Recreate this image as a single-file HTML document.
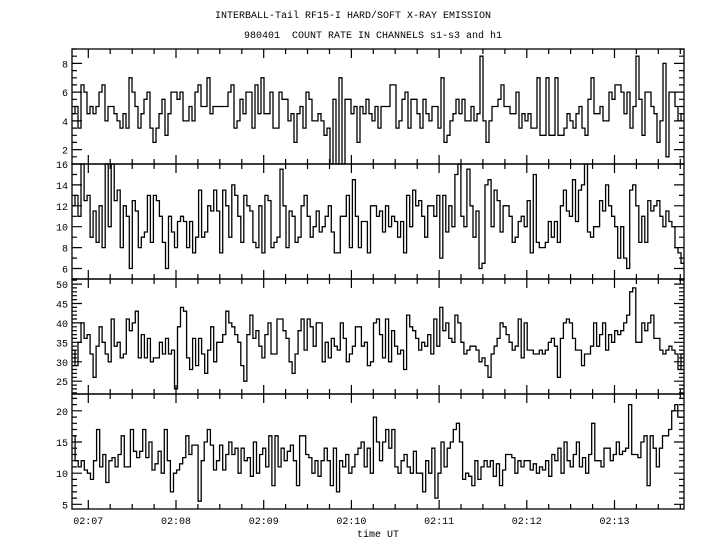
<!DOCTYPE html>
<html><head><meta charset="utf-8"><style>
html,body{margin:0;padding:0;background:#fff}
svg{display:block}
text{font-family:"Liberation Mono",monospace;font-size:10px;fill:#000}
</style></head><body>
<svg id="c" width="720" height="550">
<text x="353" y="18" text-anchor="middle">INTERBALL-Tail RF15-I HARD/SOFT X-RAY EMISSION</text>
<text x="373" y="38" text-anchor="middle" xml:space="preserve">980401  COUNT RATE IN CHANNELS s1-s3 and h1</text>
<text x="378" y="537" text-anchor="middle">time UT</text>
</svg>
<script>
const s1 = [4.5,5,3.5,6.5,6,4.5,5,4.5,5,6,6.5,4,5,5,4.5,4,3.5,4.5,3.5,7,6,5,3.5,4.5,5.5,6,3.5,2.5,3.5,4.5,5.5,3,4.5,6,6,5.5,6,4,4,5,4,6,6.5,5,5,7,4.5,5,5,5,5,5,6,
6.5,3.5,4,5.5,4.5,6,6,3.5,6.5,4.5,7,4.5,4.5,6,3.5,3.5,6,5.5,5.5,4,4.5,2.5,4.5,5,3.5,6,5.5,4,4,4.5,4,3,3.5,1,5.5,1,7,1,5.5,5.5,4.5,5,2.5,5,4.5,5.5,4.5,4,5,3.5,5,5,
5,6.5,6.5,3.5,4,5.5,6,3.5,5.5,5.5,4.5,3.5,5.5,4.5,4,5,5,3.5,7,2.5,3,4,4.5,5.5,4.5,5.5,4,4,5,4,4.5,8.5,4,2.5,4,5,5,5.5,6.5,5,5,4.5,4.5,6,3.5,4.5,4,4.5,3.5,3.5,7,3,
3,7,3,3,7,3,3,3.5,4.5,4,3.5,4.5,5,3.5,3,5.5,7,4.5,4.5,5,4,4,6,5.5,6.5,6.5,6,4.5,6,3.5,5,8.5,5.5,3,6,6,5,4.5,2.5,4,8,1.5,6,6,5,4,4.5];
const s2 = [12,13,11,16,12.5,13,9,11.5,8.5,12,8,16,10,16,12.5,13.5,8,12,11,6,12.5,11.5,8,9,9.5,13,8.5,13,12.5,11,8.5,6,11,9.5,8,10.5,11,10.5,8,10.5,7.5,9,13.5,9,9.5,12,11.5,13.5,11.5,7.5,13.5,12,9,
14,13,11,8.5,13,12,11.5,8.5,8,12,7.5,13,12.5,8,8.5,9,15.5,12,8,11.5,11,8.5,9,12,13,11,9,10,11.5,9.5,10,11,12,9.5,7.5,7.5,11,11,13,8,14.5,11,8,10.5,10.5,7.5,12,12,11,11.5,9.5,
12,10,11,10.5,9,10.5,7.5,13,10,13.5,12,12.5,11,9,12,12,11,13,7,13,9.5,12,10,15,16,11,10,15.5,12,9,11.5,6,6.5,14,14.5,10,13.5,12.5,9.5,12,12,11,8.5,9,10.5,11,10,12.5,7.5,15,8.5,8,
8,8.5,10.5,9,10.5,8.5,12,13.5,11.5,11,14.5,10.5,13.5,14,16,9.5,9,10,10,12.5,11.5,14,12,11,10,7,10,7,6,13.5,14,12,8.5,11,8.5,12.5,11.5,12,12.5,11,10,11.5,10.5,10,8,7.5,6.5];
const s3 = [33,29,35,40,36,37,32,26,34,39,35,32,30,41,34,35,31,32,41,38,40,43,31,37,31,36,30,31,31,35,32,36,32,33,23,39,44,43,31,28,36,29,36,32,27,33,39,30,35,35,37,43,40,
39,37,35,29,25,37,42,36,38,34,31,37,40,32,32,41,41,38,36,30,27,32,38,41,33,41,39,34,40,40,30,35,31,36,34,33,40,36,30,32,34,39,39,34,35,29,30,40,41,37,31,41,
30,38,34,32,33,28,42,39,38,36,33,35,34,37,32,41,34,44,38,40,36,35,42,40,35,32,33,34,34,33,30,31,29,26,32,34,36,40,39,37,35,33,34,41,31,40,33,33,32,32,33,
32,33,35,36,34,26,36,40,41,40,36,33,33,29,32,32,34,40,34,37,40,33,37,35,38,37,38,40,42,48,49,35,35,40,38,40,42,36,36,33,32,33,34,33,32,28,32];
const h1 = [16,12,11,12,10.5,10,9,12,17,11,13,8.5,12,12.5,11,13,16,11,11,17,13.5,12.5,13.5,17,12.5,15,10.5,11.5,13.5,10,17,12,7,10,10.5,11.5,12.5,16,13,14.5,14.5,5.5,12,15,17,14.5,10.5,12,14.5,10.5,13,15,13,
14,10,14,12,12.5,9.5,15,10,13,14,11,16,8,16,11,14,12,13.5,14.5,12,8,16,16,13,12.5,10,12,9.5,12,14,12,8,14,7,12,11,13,10,11,13,14,15,11,14,10,19,15,
12,15,17,14,17,11,10,12,13,11,10,13.5,10,10,7,12,10,14,6,10,15,11,14,15,17,18,15,9,10,9.5,8,12,9,11,12,11,12,9.5,11.5,8,10.5,13,13,12.5,10,12,11,12,12,10.5,11.5,10,
11,10.5,12,9.5,13,12,14,10,15,12,11,13,15,11,12.5,10,13,18,12,12,11,14,14,12,13,15,13,13.5,14,21,13,13,12.5,15,16,8,16,14,11,14,16,16,17,20,21,19,19];
const timeLabels = ["02:07","02:08","02:09","02:10","02:11","02:12","02:13"];
const p1Ticks = [2,4,6,8];
const p2Ticks = [6,8,10,12,14,16];
const p3Ticks = [25,30,35,40,45,50];
const p4Ticks = [5,10,15,20];

const svg = document.getElementById('c');
const NS = 'http://www.w3.org/2000/svg';
const L = 72, R = 684;
const panels = [
 {top:49, bot:164, min:1, max:9, data:s1, ticks:p1Ticks, minor:0.5, name:'s1'},
 {top:164, bot:279, min:5, max:16, data:s2, ticks:p2Ticks, minor:1, name:'s2'},
 {top:279, bot:394, min:21.7, max:51.3, data:s3, ticks:p3Ticks, minor:1, name:'s3'},
 {top:394, bot:509, min:4.25, max:22.7, data:h1, ticks:p4Ticks, minor:1, name:'h1'}
];
// time axis: minutes after 02:07
const t0 = (L - 88.3) / 87.7, t1 = (R - 88.3) / 87.7;
function xs(m){ return L + (m - t0) / (t1 - t0) * (R - L); }
function mk(tag, attrs){ const e = document.createElementNS(NS, tag); for (const k in attrs) e.setAttribute(k, attrs[k]); svg.appendChild(e); return e; }

let tickD = '';
panels.forEach((p, pi) => {
  const ys = v => p.bot - (v - p.min) / (p.max - p.min) * (p.bot - p.top);
  const fr = mk('rect', {x:L, y:p.top, width:R-L, height:p.bot-p.top, fill:'none', stroke:'#000', 'stroke-width':1.3});
  
  
  // y ticks
  for (let v = Math.ceil(p.min / p.minor) * p.minor; v <= p.max; v += p.minor) {
    const y = ys(v);
    const major = p.ticks.some(t => Math.abs(t - v) < 1e-6);
    const len = major ? 10 : 5;
    tickD += `M${L},${y.toFixed(1)}h${len}M${R},${y.toFixed(1)}h${-len}`;
  }
  p.ticks.forEach(t => {
    const tx = mk('text', {x:L-4, y:ys(t)+4, 'text-anchor':'end'});
    tx.textContent = t;
    
    
  });
  // x ticks
  for (let q = Math.ceil(t0*4); q/4 <= t1; q++) {
    const x = xs(q/4).toFixed(1);
    const len = q % 4 === 0 ? 9 : 5;
    tickD += `M${x},${p.top}v${len}M${x},${p.bot}v${-len}`;
  }
  // step series
  const n = p.data.length, w = (R - L) / n;
  let d = '';
  p.data.forEach((v, i) => {
    const y = Math.max(p.top, Math.min(p.bot, ys(v))).toFixed(1);
    const x0 = (L + i*w).toFixed(1), x1 = (L + (i+1)*w).toFixed(1);
    d += (i === 0 ? `M${x0},${y}` : `V${y}`) + `H${x1}`;
  });
  const path = mk('path', {d:d, fill:'none', stroke:'#000', 'stroke-width':1.3});
  
  
});
const tk = mk('path', {d:tickD, stroke:'#000', 'stroke-width':1.2, fill:'none'});


timeLabels.forEach((lab, i) => {
  const tx = mk('text', {x:xs(i), y:524, 'text-anchor':'middle'});
  tx.textContent = lab;
  
  
});
</script>
</body></html>
